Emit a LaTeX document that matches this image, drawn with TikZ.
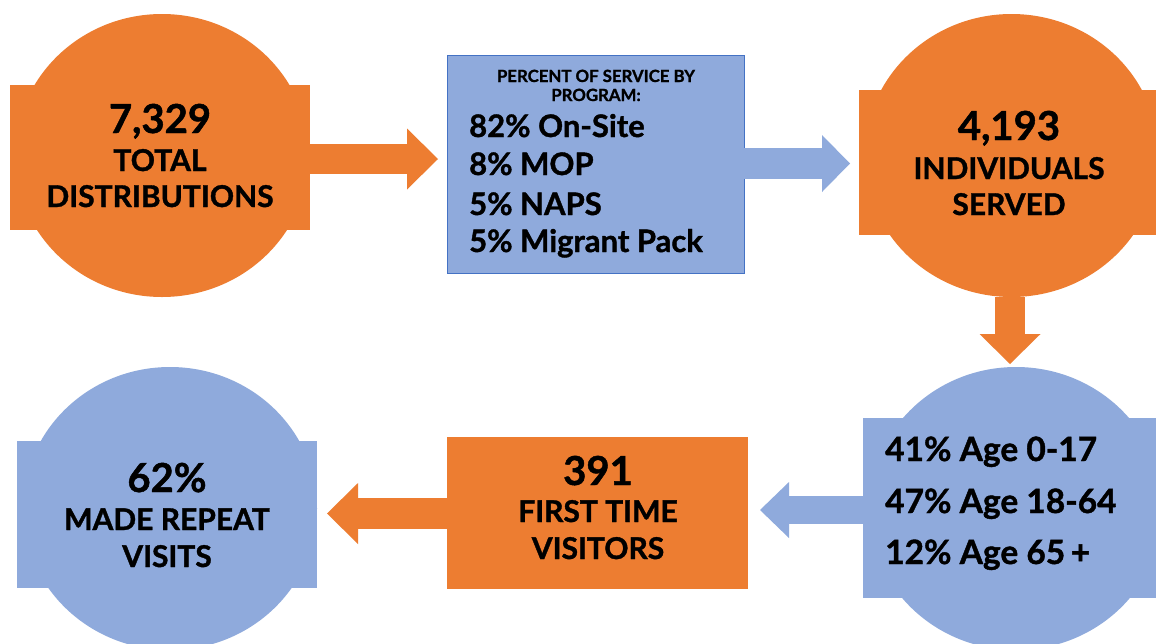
\documentclass[tikz,border=0pt]{standalone}
\usepackage{fontspec}
\setmainfont{Lato}[BoldFeatures={FakeBold=1.2}]
\usetikzlibrary{shapes.geometric,arrows.meta,calc}
\definecolor{orangec}{HTML}{ED7D31}
\definecolor{bluec}{HTML}{8FAADC}
\definecolor{blueb}{HTML}{4472C4}
\tikzset{
  blob/.style={ellipse,inner sep=0pt,outer sep=0pt,minimum width=294pt,minimum height=283pt},
  plate/.style={rectangle,inner sep=0pt,outer sep=0pt},
  bignum/.style={font=\fontsize{40}{40}\selectfont\bfseries,inner sep=0pt,anchor=base},
  caption/.style={font=\fontsize{30}{30}\selectfont\bfseries,inner sep=0pt,anchor=base},
  listline/.style={font=\fontsize{31}{31}\selectfont\bfseries,inner sep=0pt,anchor=base west},
  header/.style={font=\fontsize{16.8}{16.8}\selectfont\bfseries,inner sep=0pt,anchor=base},
  agesline/.style={font=\fontsize{33.5}{33.5}\selectfont\bfseries,inner sep=0pt,anchor=base west},
}
\begin{document}
\begin{tikzpicture}[x=1pt,y=-1pt]
\fill[white] (0,0) rectangle (1156,643);
\useasboundingbox (0,0) rectangle (1156,643);
% shape 1
\node[blob,fill=orangec] (e1) at (162,155.5) {};
\node[plate,fill=orangec,minimum width=300pt,minimum height=145pt] (r1) at (160,157.5) {};
% box 2
\node[plate,fill=bluec,draw=blueb,line width=1pt,minimum width=297pt,minimum height=218pt] (b2) at (595.5,164) {};
% shape 3
\node[blob,fill=orangec] (e3) at (1011.5,155.5) {};
\node[plate,fill=orangec,minimum width=305pt,minimum height=145pt] (r3) at (1011.5,162.5) {};
% shape 4
\node[blob,fill=bluec] (e4) at (1016,508.5) {};
\node[plate,fill=bluec,minimum width=306pt,minimum height=180pt] (r4) at (1016,508) {};
% box 5
\node[plate,fill=orangec,minimum width=301pt,minimum height=152pt] (b5) at (597.5,513) {};
% shape 6
\node[blob,fill=bluec] (e6) at (170,508.5) {};
\node[plate,fill=bluec,minimum width=300pt,minimum height=147pt] (r6) at (167,514.5) {};
% arrows
\draw[orangec,line width=30pt,-{Triangle[length=31pt,width=61pt,line width=0pt]}]
  ($(r1.east)+(0,1.5)$) -- ($(b2.west)+(-9,-5)$);
\draw[bluec,line width=31pt,-{Triangle[length=28pt,width=57pt,line width=0pt]}]
  ($(b2.east)+(0,-0.5)$) -- ($(r3.west)+(-9,1)$);
\draw[orangec,line width=30pt,-{Triangle[length=30pt,width=61pt,line width=0pt]}]
  ($(e3.south)+(-1.5,0)$) -- ($(e4.north)+(-6,-3)$);
\draw[bluec,line width=28pt,-{Triangle[length=29pt,width=56pt,line width=0pt]}]
  ($(r4.west)+(0,2)$) -- ($(b5.east)+(12,-3)$);
\draw[orangec,line width=31pt,-{Triangle[length=31pt,width=61pt,line width=0pt]}]
  ($(b5.west)+(0,0.5)$) -- ($(r6.east)+(10,-1)$);
% texts shape 1
\node[bignum] (t1a) at (160,133) {7,329};
\node[caption] (t1b) at (160,171) {TOTAL};
\node[caption] (t1c) at (160,207) {DISTRIBUTIONS};
% texts box 2
\node[header] (t2a) at (596,82) {PERCENT OF SERVICE BY};
\node[header] (t2b) at (596,101) {PROGRAM:};
\node[listline] (t2c) at (469,137) {82\% On-Site};
\node[listline] (t2d) at (469,175) {8\% MOP};
\node[listline] (t2e) at (469,215) {5\% NAPS};
\node[listline] (t2f) at (469,252) {5\% Migrant Pack};
% texts shape 3
\node[bignum] (t3a) at (1009,140) {4,193};
\node[caption] (t3b) at (1009,179) {INDIVIDUALS};
\node[caption] (t3c) at (1009,215) {SERVED};
% texts shape 4
\node[agesline] (t4a) at (885,461) {41\% Age 0-17};
\node[agesline] (t4b) at (885,513) {47\% Age 18-64};
\node[agesline] (t4c) at (885,564) {12\% Age 65\,+};
% texts box 5
\node[bignum] (t5a) at (598,485) {391};
\node[caption] (t5b) at (598,522) {FIRST TIME};
\node[caption] (t5c) at (598,559) {VISITORS};
% texts shape 6
\node[bignum] (t6a) at (167,492) {62\%};
\node[caption] (t6b) at (167,530) {MADE REPEAT};
\node[caption] (t6c) at (167,567) {VISITS};
\end{tikzpicture}
\end{document}
